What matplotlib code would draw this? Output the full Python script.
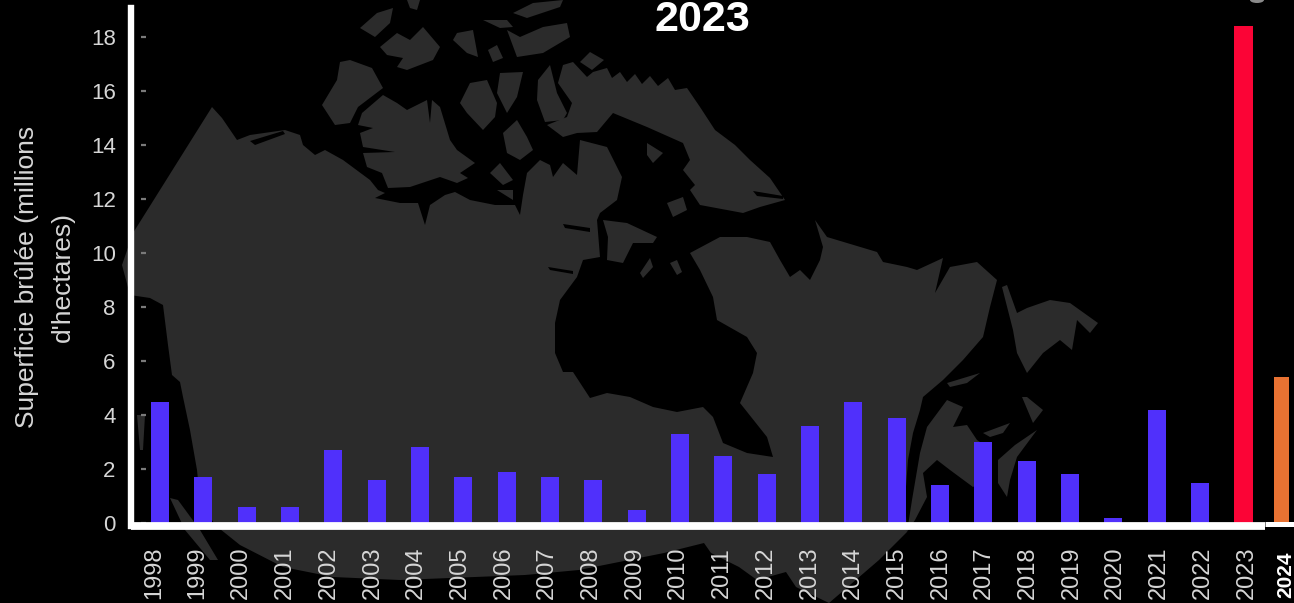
import numpy as np
import matplotlib
matplotlib.use("Agg")
import matplotlib.pyplot as plt
from matplotlib.patches import Polygon, Ellipse

plt.rcParams['font.family'] = ['Liberation Sans', 'DejaVu Sans']

years = np.arange(1998, 2025)
burned = [4.5, 1.7, 0.6, 0.6, 2.7, 1.6, 2.8, 1.7, 1.9, 1.7, 1.6, 0.5, 3.3, 2.5,
          1.8, 3.6, 4.5, 3.9, 1.4, 3.0, 2.3, 1.8, 0.2, 4.2, 1.5, 18.4, 5.4]
y_ticks = [0, 2, 4, 6, 8, 10, 12, 14, 16, 18]
title = "2023"
y_label = "Superficie brûlée (millions\nd'hectares)"

BLUE = "#5030fb"
RED = "#fb0436"
ORANGE = "#e87232"
LAND = "#2b2b2b"
LABEL = "#d6d6d6"

# background map, traced in pixels
mainland = [
    (122, 265), (133, 233), (212, 107), (222, 118), (237, 140), (250, 135), (285, 130),
    (300, 135), (303, 145), (315, 155), (325, 150), (343, 160), (370, 180), (378, 190),
    (385, 193), (375, 198), (400, 203), (418, 203), (425, 225), (430, 205), (445, 195),
    (455, 192), (470, 200), (495, 205), (515, 205), (520, 215), (523, 195), (527, 173),
    (540, 160), (550, 165), (553, 177), (563, 163), (577, 175), (580, 140), (607, 147),
    (622, 177), (617, 200), (600, 213), (597, 220), (600, 257), (583, 260), (577, 277),
    (560, 300), (555, 323), (555, 353), (563, 372), (573, 372), (590, 398), (607, 393),
    (630, 397), (653, 407), (677, 412), (703, 407), (713, 417), (723, 443), (747, 453),
    (773, 457), (767, 437), (740, 403), (753, 373), (757, 353), (747, 337), (717, 320),
    (713, 297), (700, 270), (690, 253), (720, 237), (747, 237), (770, 242), (780, 260),
    (790, 277), (800, 270), (810, 280), (820, 260), (823, 247), (815, 220), (827, 237),
    (877, 252), (883, 262), (907, 267), (917, 270), (943, 258), (935, 293), (950, 267),
    (977, 262), (997, 280), (990, 307), (983, 337), (963, 360), (943, 380), (923, 397),
    (920, 410), (913, 433), (908, 460), (905, 500), (907, 532), (879, 560), (829, 603),
    (796, 587), (786, 572), (757, 580), (739, 567), (711, 553), (704, 543), (664, 553),
    (579, 570), (525, 575), (400, 580), (333, 577), (283, 567), (240, 545), (215, 525),
    (200, 500), (197, 470), (190, 430), (183, 397), (180, 382), (172, 375), (168, 345),
    (163, 305), (150, 298), (130, 295),
]
islands = [
    # western arctic
    [(340, 62), (350, 60), (372, 68), (383, 88), (358, 107), (350, 123), (335, 125), (322, 105), (337, 80)],
    [(362, 113), (383, 95), (397, 103), (407, 110), (427, 100), (430, 123), (432, 100), (440, 107),
     (450, 140), (457, 150), (475, 163), (460, 173), (468, 178), (457, 183), (440, 177), (410, 187),
     (388, 188), (382, 173), (367, 167), (363, 153), (395, 152), (363, 147), (360, 133), (373, 128), (358, 125)],
    [(360, 28), (377, 13), (393, 8), (390, 23), (375, 37)],
    [(380, 47), (397, 33), (410, 40), (423, 27), (440, 47), (433, 60), (407, 70), (397, 67), (403, 58), (387, 55)],
    [(457, 33), (473, 30), (478, 57), (467, 53), (453, 40)],
    [(488, 50), (497, 45), (503, 58), (493, 62)],
    [(507, 30), (520, 37), (543, 27), (567, 23), (570, 37), (543, 53), (517, 57)],
    [(513, 13), (533, 3), (563, 0), (560, 7), (527, 18)],
    [(483, 20), (507, 20), (513, 27), (500, 28)],
    [(407, 0), (420, 0), (417, 10), (410, 8)],
    [(500, 73), (523, 72), (517, 97), (507, 113), (497, 93)],
    [(460, 103), (470, 83), (487, 80), (497, 103), (495, 117), (483, 130), (467, 113)],
    [(503, 133), (517, 120), (527, 137), (533, 150), (520, 160), (507, 153)],
    [(490, 173), (500, 163), (513, 180), (503, 185)],
    [(497, 190), (513, 190), (513, 200)],
    [(538, 80), (550, 65), (557, 93), (567, 113), (563, 120), (545, 122), (537, 100)],
    # baffin
    [(547, 125), (567, 117), (572, 103), (558, 83), (563, 65), (573, 62), (587, 77), (593, 72),
     (607, 68), (612, 78), (620, 72), (627, 82), (635, 74), (642, 84), (650, 76), (658, 86),
     (668, 78), (675, 90), (687, 88), (700, 107), (715, 130), (735, 145),
     (750, 160), (770, 178), (785, 200), (760, 207), (743, 213), (727, 210), (700, 205), (690, 190),
     (695, 185), (683, 170), (690, 160), (683, 143), (647, 127), (613, 113), (597, 132), (577, 133), (563, 137)],
    [(580, 62), (590, 52), (604, 60), (592, 70)],
    [(647, 143), (663, 153), (653, 163), (647, 155)],
    [(667, 203), (683, 197), (687, 210), (673, 217)],
    # hudson bay
    [(603, 220), (627, 223), (657, 237), (653, 243), (633, 243), (623, 263), (607, 260), (608, 237)],
    [(640, 273), (650, 258), (653, 267), (643, 278)],
    [(670, 263), (677, 260), (682, 272), (677, 275)],
    # atlantic side
    [(907, 532), (915, 520), (927, 497), (923, 473), (937, 460), (950, 470), (973, 487), (985, 480),
     (992, 450), (977, 440), (967, 425), (953, 427), (963, 407), (947, 400), (927, 427), (920, 453), (912, 500)],
    [(1037, 430), (1017, 457), (1010, 480), (1007, 497), (998, 483), (998, 460), (1015, 445)],
    [(983, 433), (1010, 423), (1003, 433), (990, 437)],
    [(1022, 397), (1027, 397), (1043, 410), (1033, 423)],
    [(947, 383), (980, 373), (967, 383), (950, 387)],
    [(1002, 287), (1007, 285), (1017, 313), (1027, 308), (1050, 300), (1070, 303), (1077, 308),
     (1098, 323), (1090, 333), (1077, 320), (1072, 350), (1060, 340), (1043, 353), (1027, 373),
     (1017, 353), (1013, 330)],
    # pacific side
    [(170, 498), (178, 500), (200, 530), (218, 560), (210, 560), (185, 530)],
    [(137, 415), (145, 415), (143, 450), (140, 450)],
]
inlets = [
    [(250, 141), (283, 131), (285, 134), (255, 145)],
    [(563, 224), (590, 228), (590, 232), (565, 228)],
    [(548, 267), (573, 271), (573, 274), (550, 270)],
    [(753, 191), (783, 196), (783, 199), (757, 196)],
]

fig = plt.figure(figsize=(12.94, 6.03), dpi=100, facecolor="black")

bg = fig.add_axes([0, 0, 1, 1])
bg.set_xlim(0, 1294)
bg.set_ylim(603, 0)
bg.axis("off")
bg.add_patch(Polygon(mainland, closed=True, fc=LAND, ec="none"))
for pts in islands:
    bg.add_patch(Polygon(pts, closed=True, fc=LAND, ec="none"))
for pts in inlets:
    bg.add_patch(Polygon(pts, closed=True, fc="black", ec="none"))
bg.add_patch(Ellipse((1257, 0), 14, 6, fc="#8a8a8a", ec="none"))

# axes box runs from x=131 to the right edge, y=8 down to the baseline rule
ax = fig.add_axes([131 / 1294, 1 - 526 / 603, 1 - 131 / 1294, (526 - 8) / 603])
ax.patch.set_alpha(0)
px = 43.33
ax.set_xlim(1998 - 29 / px, 1998 + (1294 - 160) / px)
ax.set_ylim(-3 / 27, (523 - 8) / 27)

bar_x = years.astype(float)
bar_x[-1] -= 0.12
colors = [BLUE] * 25 + [RED, ORANGE]
widths = [0.415] * 25 + [0.45, 0.35]
ax.bar(bar_x, burned, width=widths, color=colors, zorder=2)

for side in ["top", "right", "bottom"]:
    ax.spines[side].set_visible(False)
ax.spines["left"].set_color("white")
ax.spines["left"].set_linewidth(4.6)

# baseline is thinner under the last two bars
x_end = 1998 + (1265 - 160) / px
ax.plot([ax.get_xlim()[0], x_end], [-0.11, -0.11], color="white", lw=5.6, solid_capstyle="butt", clip_on=False, zorder=3)
ax.plot([x_end, ax.get_xlim()[1]], [-0.05, -0.05], color="white", lw=3.6, solid_capstyle="butt", clip_on=False, zorder=3)

ax.set_yticks(y_ticks)
ax.tick_params(axis="y", length=0, pad=11, labelsize=16, labelcolor=LABEL)
ax.hlines(y_ticks, 1997.56, 1997.67, color="#7a7a7a", lw=1.6, zorder=1)

tick_x = years - 0.14 + 0.0085 * (years - 1998)
tick_x[-1] = 2023.97
ax.set_xticks(tick_x)
ax.set_xticklabels(years, rotation=90)
ax.tick_params(axis="x", length=0, pad=15, labelsize=17, labelcolor=LABEL)
last = ax.get_xticklabels()[-1]
last.set_color("white")
last.set_fontweight("bold")
last.set_fontsize(15)
ax.xaxis.get_major_ticks()[-1].set_pad(18)

fig.text(702 / 1294, 1 - 20 / 603, title, color="white", fontsize=31, fontweight="bold", ha="center", va="center")
fig.text(45 / 1294, 1 - 277 / 603, y_label, color=LABEL, fontsize=19, rotation=90, ha="center", va="center",
         multialignment="center", linespacing=1.6)

fig.savefig("out.png", dpi=100, facecolor="black")
